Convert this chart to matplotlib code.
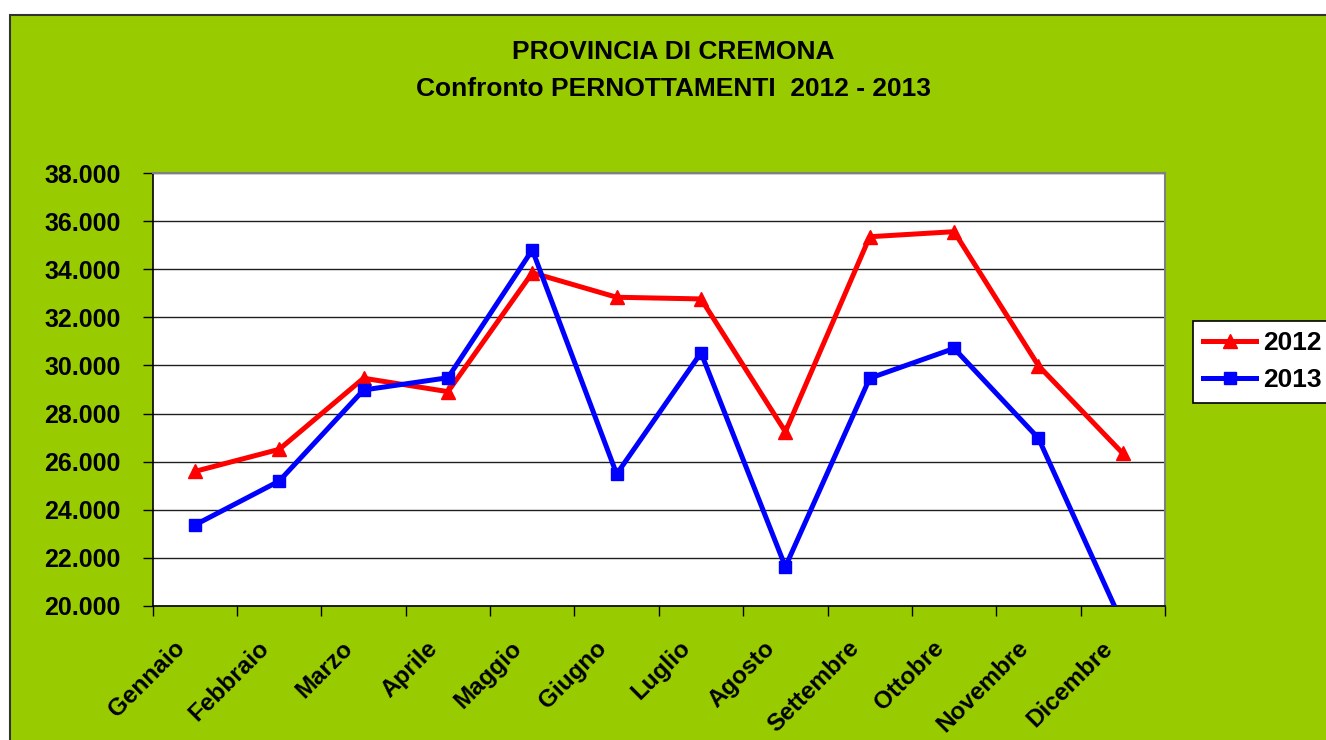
from __future__ import annotations

import matplotlib

matplotlib.use("Agg")
import matplotlib.pyplot as plt
from matplotlib.patches import Rectangle
from matplotlib.ticker import FixedLocator, FuncFormatter, NullFormatter
from matplotlib.transforms import ScaledTranslation, blended_transform_factory

MONTHS = [
    "Gennaio", "Febbraio", "Marzo", "Aprile", "Maggio", "Giugno",
    "Luglio", "Agosto", "Settembre", "Ottobre", "Novembre", "Dicembre",
]
NIGHTS_2012 = [25590, 26510, 29470, 28910, 33860, 32840, 32770, 27240, 35360, 35570, 29990, 26340]
NIGHTS_2013 = [23360, 25190, 28980, 29490, 34810, 25480, 30530, 21620, 29470, 30710, 26970, 19220]
Y_TICKS = list(range(20000, 38001, 2000))

GREEN = "#99CC00"
FONT = "Liberation Sans"


def thousands(value: float, _pos: int) -> str:
    return f"{value:,.0f}".replace(",", ".")


def draw_chart(output_path: str) -> None:
    plt.rcParams["font.family"] = FONT
    fig = plt.figure(figsize=(13.26, 7.40), dpi=100, facecolor="white")

    # Excel chart area: green panel, cropped at the right and bottom
    fig.patches.append(
        Rectangle((10 / 1326, -0.05), 1.1, 1 - 15 / 740 + 0.05, transform=fig.transFigure,
                  facecolor=GREEN, edgecolor="#333333", linewidth=1.5, zorder=-10)
    )

    ax = fig.add_axes([152.7 / 1326, 1 - 605.7 / 740, (1165 - 152.7) / 1326, 432.4 / 740])
    ax.set_facecolor("white")

    x = list(range(len(MONTHS)))
    ax.plot(x, NIGHTS_2012, color="#FF0000", linewidth=3.6, marker="^", markersize=10,
            label="2012", zorder=3)
    ax.plot(x, NIGHTS_2013, color="#0000FF", linewidth=3.6, marker="s", markersize=8.5,
            label="2013", zorder=3)

    ax.set_xlim(-0.5, len(MONTHS) - 0.5)
    ax.set_ylim(Y_TICKS[0], Y_TICKS[-1])
    ax.set_yticks(Y_TICKS)
    ax.yaxis.set_major_formatter(FuncFormatter(thousands))
    ax.grid(axis="y", color="#202020", linewidth=1)
    ax.set_axisbelow(True)

    # ticks between categories; month names placed like Excel's rotated labels
    ax.xaxis.set_major_locator(FixedLocator([i - 0.5 for i in range(len(MONTHS) + 1)]))
    ax.xaxis.set_major_formatter(NullFormatter())
    ax.tick_params(axis="x", which="major", length=7, width=1, direction="out")
    ax.tick_params(axis="y", length=7, width=1, direction="out", pad=16, labelsize=18)
    for label in ax.get_yticklabels():
        label.set_fontweight("bold")

    label_transform = blended_transform_factory(ax.transData, ax.transAxes) + ScaledTranslation(
        -0.14, -0.39, fig.dpi_scale_trans
    )
    for pos, month in zip(x, MONTHS):
        ax.text(pos, 0, month, transform=label_transform, rotation=45, ha="right", va="center",
                rotation_mode="anchor", fontsize=17.5, fontweight="bold", clip_on=False)

    for side in ("left", "bottom"):
        ax.spines[side].set_color("black")
        ax.spines[side].set_linewidth(1.2)
    for side in ("top", "right"):
        ax.spines[side].set_color("#808080")
        ax.spines[side].set_linewidth(1.5)

    fig.text(673 / 1326, 1 - 52 / 740, "PROVINCIA DI CREMONA", ha="center", va="center",
             fontsize=19, fontweight="bold")
    fig.text(673 / 1326, 1 - 89 / 740, "Confronto PERNOTTAMENTI  2012 - 2013", ha="center",
             va="center", fontsize=19, fontweight="bold")

    legend = fig.legend(loc="upper left", bbox_to_anchor=(1192.7 / 1326, 1 - 320.7 / 740),
                        frameon=True, fancybox=False, edgecolor="black", facecolor="white",
                        framealpha=1, handlelength=2.0, handletextpad=0.25, borderpad=0.4,
                        labelspacing=0.5, borderaxespad=0,
                        prop={"family": FONT, "weight": "bold", "size": 19})
    legend.get_frame().set_linewidth(1.2)

    fig.savefig(output_path, dpi=100, facecolor=fig.get_facecolor())
    plt.close(fig)


if __name__ == "__main__":
    draw_chart("out.png")
